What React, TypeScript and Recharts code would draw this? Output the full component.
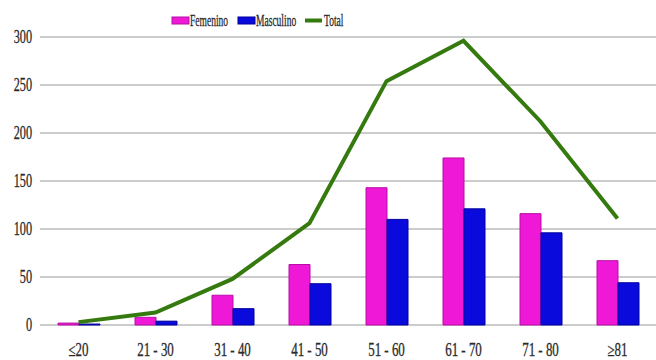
import React from "react";
import { ComposedChart, Bar, Line, XAxis, YAxis, CartesianGrid } from "recharts";

const categories = ["≤20", "21 - 30", "31 - 40", "41 - 50", "51 - 60", "61 - 70", "71 - 80", "≥81"];
const femenino = [2, 8, 31, 63, 143, 174, 116, 67];
const masculino = [1, 4, 17, 43, 110, 121, 96, 44];
const total = [3, 13, 48, 106, 254, 296, 212, 111];
const yTicks = [0, 50, 100, 150, 200, 250, 300];

const data = categories.map((c, i) => ({
  cat: c,
  Femenino: femenino[i],
  Masculino: masculino[i],
  Total: total[i],
}));

const FONT = "'Liberation Serif', 'DejaVu Serif', serif";
const TEXT = "#2a2a2a";
const FEM = "#ee18d6";
const MASC = "#0a0adc";
const TOT = "#347a0e";

const YTick = (props: any) => {
  const { x, y, payload } = props;
  return (
    <text
      transform={`translate(${x},${y}) scale(0.68,1)`}
      textAnchor="end"
      dy="0.35em"
      fontFamily={FONT}
      fontSize={18}
      fill={TEXT}
      stroke={TEXT}
      strokeWidth={0.3}
    >
      {payload.value}
    </text>
  );
};

const XTick = (props: any) => {
  const { x, y, payload } = props;
  return (
    <text
      transform={`translate(${x},${y + 17}) scale(0.72,1)`}
      textAnchor="middle"
      dy="0.35em"
      fontFamily={FONT}
      fontSize={18}
      fill={TEXT}
      stroke={TEXT}
      strokeWidth={0.3}
    >
      {payload.value}
    </text>
  );
};

const LegendText = ({ x, label }: { x: number; label: string }) => (
  <text
    transform={`translate(${x},20) scale(0.56,1)`}
    dy="0.35em"
    fontFamily={FONT}
    fontSize={17}
    fill={TEXT}
    stroke={TEXT}
    strokeWidth={0.3}
  >
    {label}
  </text>
);

export default function App() {
  return (
    <div style={{ position: "absolute", left: 0, top: 0, width: 656, height: 360, background: "#fff" }}>
      <ComposedChart
        width={656}
        height={360}
        data={data}
        margin={{ top: 37, right: 0, left: 0, bottom: 0 }}
        barGap={0}
      >
        <CartesianGrid vertical={false} stroke="#cccccc" strokeWidth={2} />
        <XAxis
          dataKey="cat"
          height={35}
          axisLine={false}
          tickLine={false}
          tickMargin={2}
          tick={<XTick />}
          interval={0}
        />
        <YAxis
          width={40}
          domain={[0, 300]}
          ticks={yTicks}
          axisLine={false}
          tickLine={false}
          tick={<YTick />}
        />
        <Bar dataKey="Femenino" fill={FEM} stroke="#b80ea6" strokeWidth={1} barSize={21} isAnimationActive={false} />
        <Bar dataKey="Masculino" fill={MASC} stroke="#00009a" strokeWidth={1} barSize={21} isAnimationActive={false} />
        <Line
          dataKey="Total"
          type="linear"
          stroke={TOT}
          strokeWidth={4}
          dot={false}
          activeDot={false}
          isAnimationActive={false}
        />
      </ComposedChart>
      <svg width={656} height={40} style={{ position: "absolute", left: 0, top: 0 }}>
        <rect x={172} y={17} width={17} height={7} fill={FEM} stroke="#b80ea6" strokeWidth={1} />
        <LegendText x={190} label="Femenino" />
        <rect x={238} y={17} width={17} height={7} fill={MASC} stroke="#00009a" strokeWidth={1} />
        <LegendText x={256} label="Masculino" />
        <line x1={305} y1={20.5} x2={322} y2={20.5} stroke={TOT} strokeWidth={4} />
        <LegendText x={324} label="Total" />
      </svg>
    </div>
  );
}
